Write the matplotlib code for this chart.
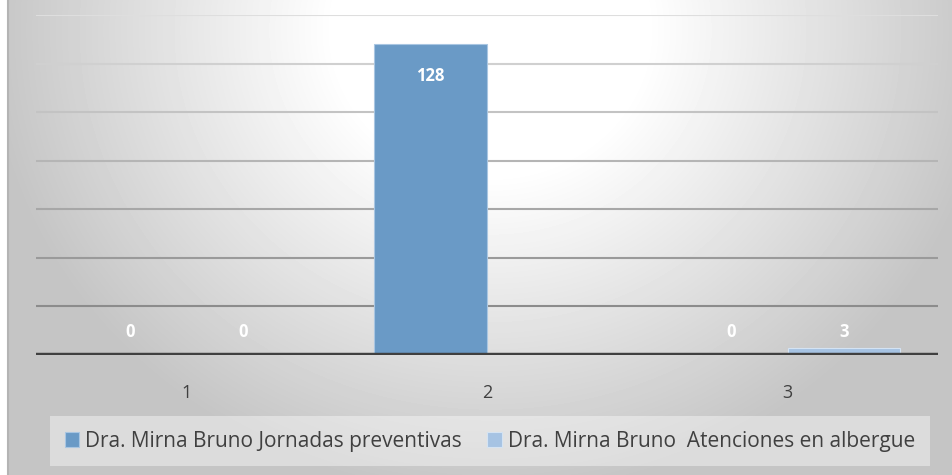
import numpy as np
import matplotlib.pyplot as plt
from matplotlib import font_manager

categories = ['1', '2', '3']
jornadas = [0, 128, 0]
albergue = [0, np.nan, 3]
series_names = ['Dra. Mirna Bruno Jornadas preventivas',
                'Dra. Mirna Bruno  Atenciones en albergue']

names = {f.name for f in font_manager.fontManager.ttflist}
narrow = 'Liberation Sans Narrow' if 'Liberation Sans Narrow' in names else 'Open Sans'
plt.rcParams['font.family'] = ['Open Sans', 'DejaVu Sans']

fig = plt.figure(figsize=(9.52, 4.75), dpi=100)

# radial gradient background
bg = fig.add_axes([0, 0, 1, 1], zorder=0)
yy, xx = np.mgrid[0:475, 0:952]
d = np.sqrt(((xx - 490) / 520.0) ** 2 + ((yy - 30) / 480.0) ** 2)
shade = np.clip(1.0 - 0.24 * np.clip(d - 0.3, 0, None) / 0.7, 0.77, 1.0)
bg.imshow(shade, cmap='gray', vmin=0, vmax=1, aspect='auto', extent=[0, 952, 475, 0])
bg.fill_between([0, 7], 0, 475, color='white')
bg.plot([7.5, 7.5], [0, 475], color='#b4b4b4', lw=1.5)
bg.set_xlim(0, 952)
bg.set_ylim(475, 0)
bg.axis('off')

ax = fig.add_axes([36 / 952, 120 / 475, 902 / 952, 340 / 475], zorder=1)
ax.patch.set_alpha(0)

x = np.arange(len(categories))
w = 0.375
ax.bar(x - w / 2, jornadas, w, color='#6a9ac6', edgecolor='#a9c6e2', lw=0.8,
       label=series_names[0], zorder=3)
ax.bar(x + w / 2, albergue, w, color='#a6c3e3', edgecolor='#d4e3f3', lw=0.8,
       label=series_names[1], zorder=3)

ax.set_ylim(0, 140)
ax.set_xlim(-0.5, 2.5)

# gridlines, getting darker toward the bottom
grid_vals = np.arange(20, 141, 20)
for g in grid_vals:
    c = 0.55 + 0.32 * (g - 20) / 120
    ax.axhline(g, color=str(c), lw=1.5, zorder=1)

ax.axhline(0, color='#404040', lw=3.2, zorder=4)

for xs, vals in ((x - w / 2, jornadas), (x + w / 2, albergue)):
    for xi, v in zip(xs, vals):
        if np.isnan(v):
            continue
        yl = v - 13 if v > 20 else 9.5
        ax.text(xi, yl, f'{int(v)}', ha='center', va='center', color='white',
                fontsize=12, fontweight='bold', zorder=5)

ax.set_yticks([])
ax.set_xticks(x)
ax.set_xticklabels(categories, fontsize=13, color='#404040')
ax.tick_params(axis='x', length=0, pad=21)
for s in ax.spines.values():
    s.set_visible(False)

leg = fig.legend(loc='center', bbox_to_anchor=(490 / 952, 1 - 441 / 475), ncol=2,
                 frameon=True, fancybox=False, handlelength=0.7, handleheight=0.7,
                 handletextpad=0.3, columnspacing=1.2, borderpad=0.7,
                 prop={'family': [narrow, 'DejaVu Sans'], 'size': 15})
leg.get_frame().set_facecolor('white')
leg.get_frame().set_alpha(0.4)
leg.get_frame().set_edgecolor('none')
for t in leg.get_texts():
    t.set_color('#404040')

fig.savefig('out.png', dpi=100)
